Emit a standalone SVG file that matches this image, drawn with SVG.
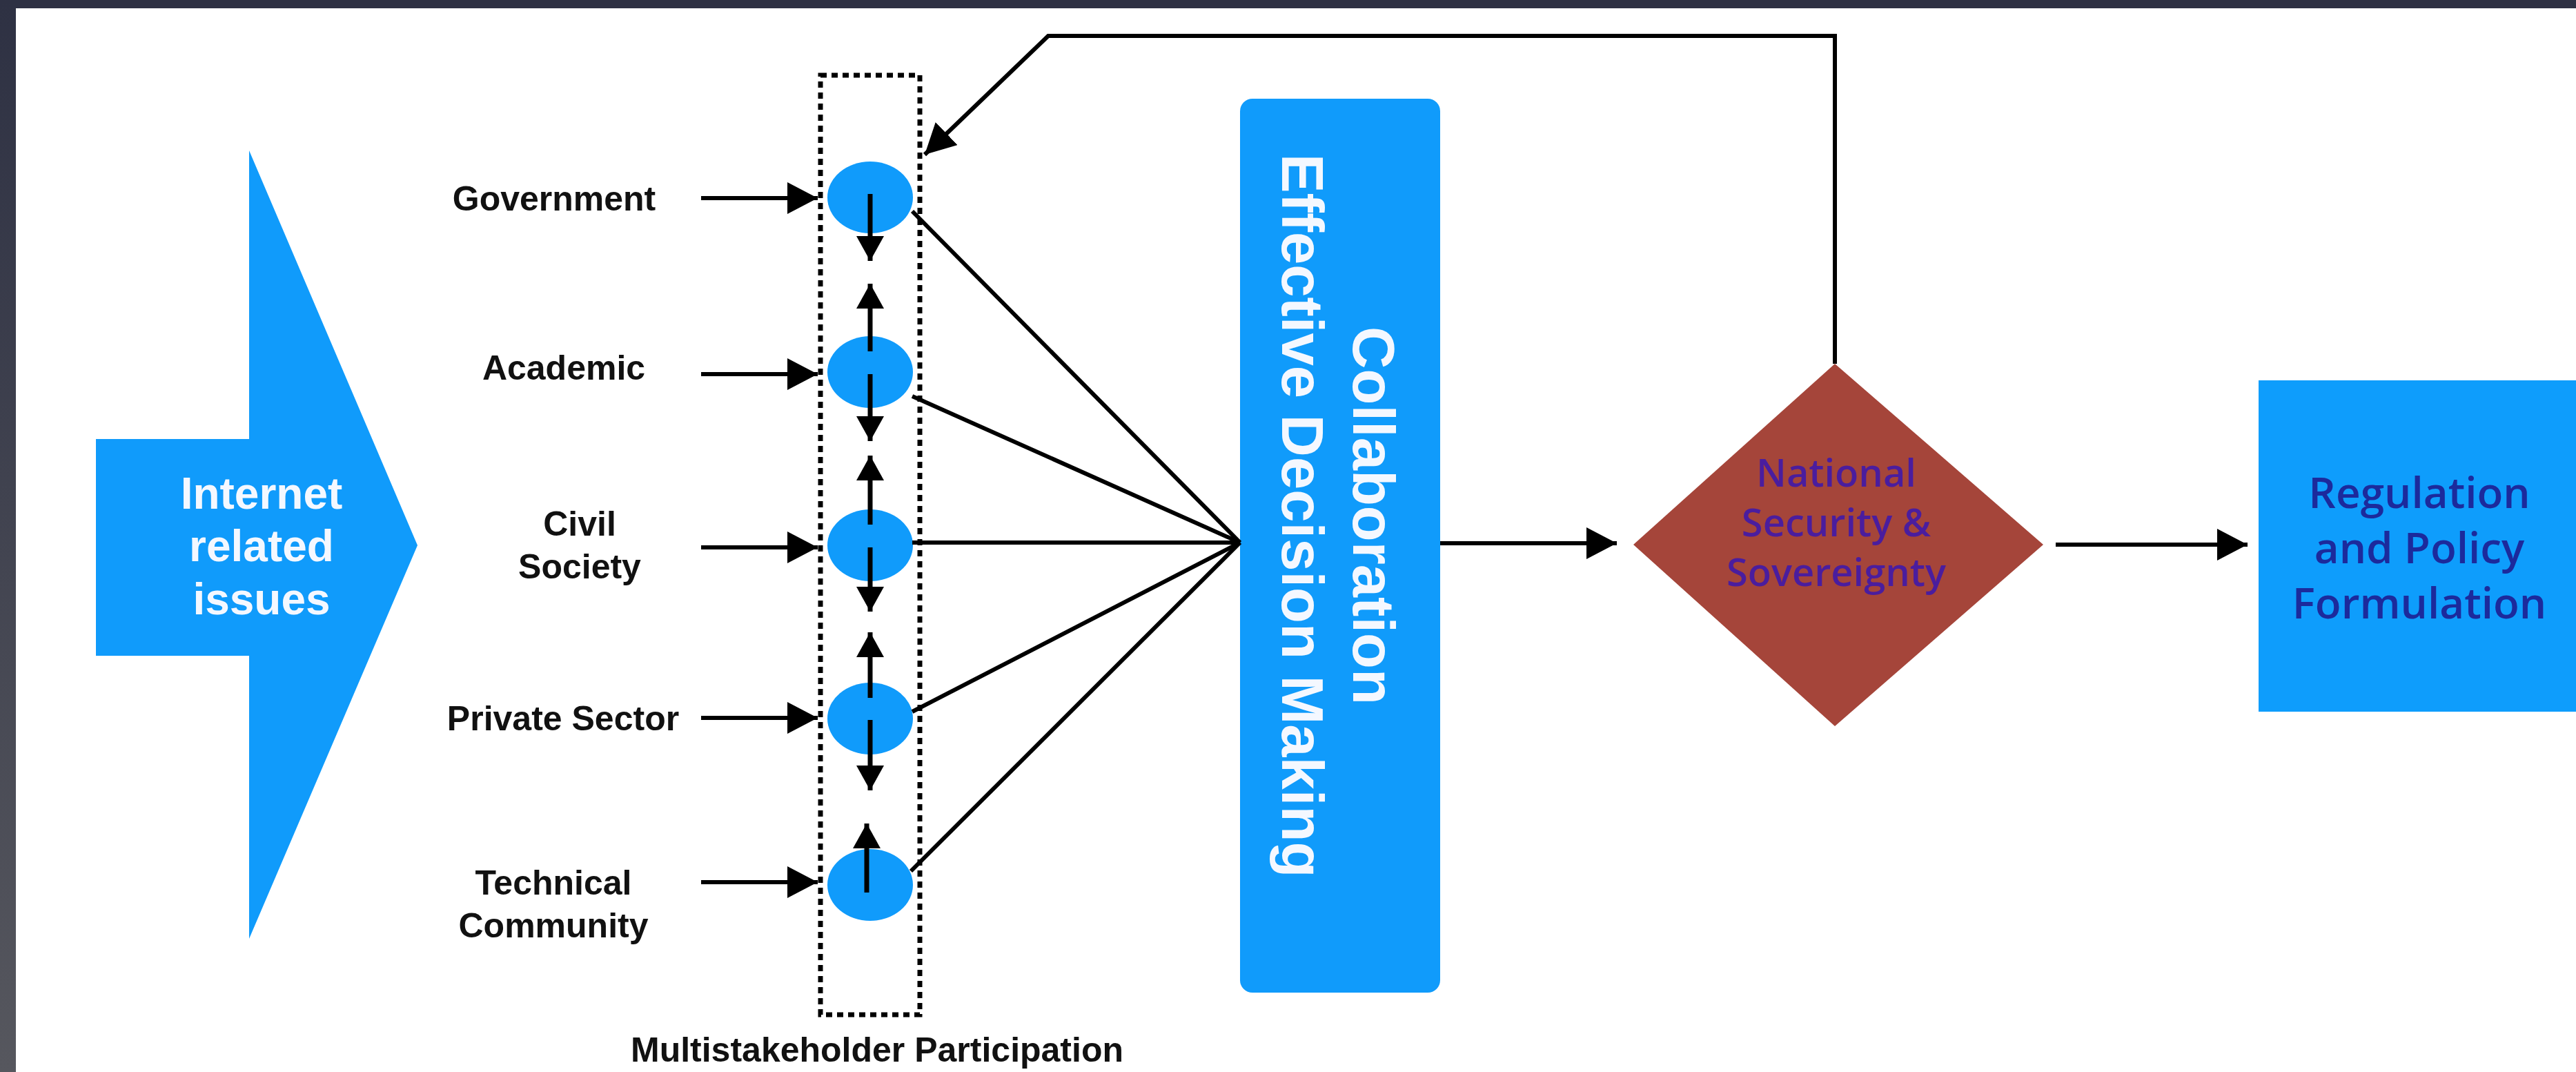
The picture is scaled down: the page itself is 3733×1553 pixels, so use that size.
<svg xmlns="http://www.w3.org/2000/svg" width="3733" height="1553" viewBox="0 0 3733 1553">
  <defs>
    <linearGradient id="frameGrad" x1="0" y1="0" x2="0" y2="1">
      <stop offset="0" stop-color="#2e3143"/>
      <stop offset="1" stop-color="#56575e"/>
    </linearGradient>
    <marker id="arrow" markerUnits="userSpaceOnUse" viewBox="0 0 44 46" refX="44" refY="23" markerWidth="44" markerHeight="46" orient="auto">
      <path d="M0,0 L44,23 L0,46 z" fill="#000"/>
    </marker>
    <marker id="arrowSmall" markerUnits="userSpaceOnUse" viewBox="0 0 36 40" refX="36" refY="20" markerWidth="36" markerHeight="40" orient="auto">
      <path d="M0,0 L36,20 L0,40 z" fill="#000"/>
    </marker>
    <style>
      .lbl { font-family: "Liberation Sans", Arial, sans-serif; font-weight: bold; font-size: 50px; fill: #111; text-anchor: middle; }
      .white { font-family: "Liberation Sans", Arial, sans-serif; font-weight: bold; fill: #f4f8ff; text-anchor: middle; }
      .conn { stroke: #000; stroke-width: 6; fill: none; }
      .vconn { stroke: #000; stroke-width: 7; fill: none; }
      .blue { fill: #109bfb; }
      .soft { font-family: "Open Sans", "DejaVu Sans", sans-serif; font-weight: 600; text-anchor: middle; }
    </style>
  </defs>

  <!-- background and frame -->
  <rect x="0" y="0" width="3733" height="1553" fill="#ffffff"/>
  <rect x="0" y="0" width="3733" height="12" fill="#2e3143"/>
  <rect x="0" y="0" width="23" height="1553" fill="url(#frameGrad)"/>

  <!-- Internet related issues (block arrow) -->
  <g id="internet-issues">
    <polygon class="blue" points="139,636 361,636 361,218 605,790 361,1360 361,950 139,950"/>
    <text class="white" font-size="64" x="379" y="737">Internet</text>
    <text class="white" font-size="64" x="379" y="813">related</text>
    <text class="white" font-size="64" x="379" y="890">issues</text>
  </g>

  <!-- Stakeholder labels -->
  <g id="label-government"><text class="lbl" x="803" y="305">Government</text></g>
  <g id="label-academic"><text class="lbl" x="817" y="550">Academic</text></g>
  <g id="label-civil-society">
    <text class="lbl" x="840" y="776">Civil</text>
    <text class="lbl" x="840" y="838">Society</text>
  </g>
  <g id="label-private-sector"><text class="lbl" x="816" y="1058">Private Sector</text></g>
  <g id="label-technical-community">
    <text class="lbl" x="802" y="1296">Technical</text>
    <text class="lbl" x="802" y="1358">Community</text>
  </g>

  <!-- Multistakeholder participation group -->
  <g id="multistakeholder">
    <rect x="1189" y="109" width="144" height="1361" fill="none" stroke="#000" stroke-width="7" stroke-dasharray="9 7"/>
    <text class="lbl" x="1271" y="1538">Multistakeholder Participation</text>
  </g>

  <g id="circle-government"><ellipse class="blue" cx="1261" cy="286" rx="62" ry="52"/></g>
  <g id="circle-academic"><ellipse class="blue" cx="1261" cy="539" rx="62" ry="52"/></g>
  <g id="circle-civil"><ellipse class="blue" cx="1261" cy="790" rx="62" ry="52"/></g>
  <g id="circle-private"><ellipse class="blue" cx="1261" cy="1041" rx="62" ry="52"/></g>
  <g id="circle-technical"><ellipse class="blue" cx="1261" cy="1282" rx="62" ry="52"/></g>

  <!-- Collaboration box -->
  <g id="collaboration">
    <rect x="1797" y="143" width="290" height="1295" rx="18" ry="18" class="blue"/>
    <text class="white" font-size="85" transform="translate(1961,747) rotate(90)" x="0" y="0">Collaboration</text>
    <text class="white" font-size="85" transform="translate(1858,747) rotate(90)" x="0" y="0">Effective Decision Making</text>
  </g>

  <!-- National Security diamond -->
  <g id="national-security">
    <polygon points="2659,527 2961,789 2659,1052 2367,789" fill="#a5453a"/>
    <text class="soft" font-size="56" fill="#4a1d9e" x="2661" y="705">National</text>
    <text class="soft" font-size="56" fill="#4a1d9e" x="2661" y="777">Security &amp;</text>
    <text class="soft" font-size="56" fill="#4a1d9e" x="2661" y="849">Sovereignty</text>
  </g>

  <!-- Regulation box -->
  <g id="regulation">
    <rect x="3273" y="551" width="460" height="480" fill="#0e9dfc"/>
    <text class="soft" font-size="62" fill="#1c2a9c" x="3506" y="736">Regulation</text>
    <text class="soft" font-size="62" fill="#1c2a9c" x="3506" y="816">and Policy</text>
    <text class="soft" font-size="62" fill="#1c2a9c" x="3506" y="896">Formulation</text>
  </g>

  <!-- Connectors -->
  <g id="connectors">
    <!-- stakeholder inputs -->
    <line class="conn" x1="1016" y1="287" x2="1185" y2="287" marker-end="url(#arrow)"/>
    <line class="conn" x1="1016" y1="542" x2="1185" y2="542" marker-end="url(#arrow)"/>
    <line class="conn" x1="1016" y1="793" x2="1185" y2="793" marker-end="url(#arrow)"/>
    <line class="conn" x1="1016" y1="1040" x2="1185" y2="1040" marker-end="url(#arrow)"/>
    <line class="conn" x1="1016" y1="1278" x2="1185" y2="1278" marker-end="url(#arrow)"/>

    <!-- vertical exchange arrows between circles -->
    <line class="vconn" x1="1261" y1="281" x2="1261" y2="378" marker-end="url(#arrowSmall)"/>
    <line class="vconn" x1="1261" y1="509" x2="1261" y2="411" marker-end="url(#arrowSmall)"/>
    <line class="vconn" x1="1261" y1="542" x2="1261" y2="639" marker-end="url(#arrowSmall)"/>
    <line class="vconn" x1="1261" y1="760" x2="1261" y2="660" marker-end="url(#arrowSmall)"/>
    <line class="vconn" x1="1261" y1="793" x2="1261" y2="886" marker-end="url(#arrowSmall)"/>
    <line class="vconn" x1="1261" y1="1011" x2="1261" y2="916" marker-end="url(#arrowSmall)"/>
    <line class="vconn" x1="1261" y1="1043" x2="1261" y2="1145" marker-end="url(#arrowSmall)"/>
    <line class="vconn" x1="1256" y1="1293" x2="1256" y2="1193" marker-end="url(#arrowSmall)"/>

    <!-- circles to collaboration -->
    <line class="conn" x1="1322" y1="306" x2="1797" y2="786"/>
    <line class="conn" x1="1322" y1="574" x2="1797" y2="786"/>
    <line class="conn" x1="1322" y1="786" x2="1797" y2="786"/>
    <line class="conn" x1="1322" y1="1031" x2="1797" y2="786"/>
    <line class="conn" x1="1320" y1="1262" x2="1797" y2="786"/>

    <!-- collaboration to diamond -->
    <line class="conn" x1="2087" y1="787" x2="2343" y2="787" marker-end="url(#arrow)"/>
    <!-- diamond to regulation -->
    <line class="conn" x1="2979" y1="789" x2="3257" y2="789" marker-end="url(#arrow)"/>
    <!-- feedback loop -->
    <path class="conn" d="M2659,527 V52 H1519 L1340,224" marker-end="url(#arrow)"/>
  </g>
</svg>
